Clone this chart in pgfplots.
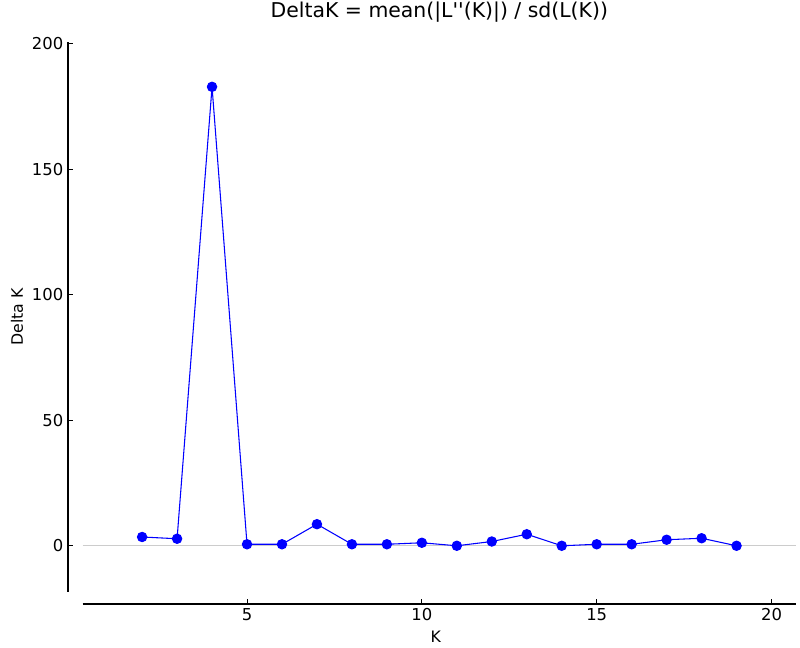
\documentclass[border=0pt]{standalone}
\usepackage{fontspec}
\setmainfont{DejaVu Sans}
\usepackage{pgfplots}
\pgfplotsset{compat=1.18}

% Delta K per K (Evanno method)
\pgfplotstableread{
K   dK
2   3.5
3   2.8
4   182.8
5   0.6
6   0.6
7   8.6
8   0.6
9   0.6
10  1.2
11  0.0
12  1.7
13  4.6
14  0.0
15  0.6
16  0.6
17  2.4
18  3.0
19  0.0
}\deltak

\newcommand{\tickfont}{\fontsize{12.3}{14}\selectfont}
\newcommand{\labfont}{\fontsize{11.8}{14}\selectfont}

\begin{document}
\begin{tikzpicture}
\path[use as bounding box] (0,0) rectangle (600pt,486pt);
\begin{axis}[
    at={(62pt,42.2pt)}, anchor=south west,
    scale only axis,
    width=535pt, height=412pt,
    xmin=0.3, xmax=20.7,
    ymin=-18.3, ymax=200.5,
    axis x line=bottom, axis y line=left,
    axis x line shift=9.2pt,
    axis y line shift=11pt,
    axis line style={-, black, line width=0.8pt},
    xtick={5,10,15,20},
    ytick={0,50,100,150,200},
    tick align=inside,
    major tick length=4pt,
    tick style={black, line width=0.6pt},
    /pgf/number format/assume math mode=true,
    every tick label/.append style={font=\tickfont},
    title={DeltaK = mean(|L\textquotesingle\textquotesingle(K)|) / sd(L(K))},
    title style={at={(axis description cs:0.5,1.0406)}, anchor=center, yshift=0pt, font=\fontsize{15.3}{17}\selectfont},
    xlabel={K},
    xlabel style={at={(axis description cs:0.495,-0.0825)}, anchor=center, font=\labfont},
    ylabel={Delta K},
    ylabel style={at={(axis description cs:-0.092,0.5)}, anchor=center, font=\labfont},
    clip=false,
]
\addplot[color=black!20, line width=0.8pt, forget plot] coordinates {(0.3,0) (20.7,0)};
\addplot[color=blue, line width=0.8pt, mark=*, mark size=3.5pt, mark options={fill=blue, draw=blue}]
    table[x=K, y=dK] {\deltak};
\end{axis}
\end{tikzpicture}
\end{document}
